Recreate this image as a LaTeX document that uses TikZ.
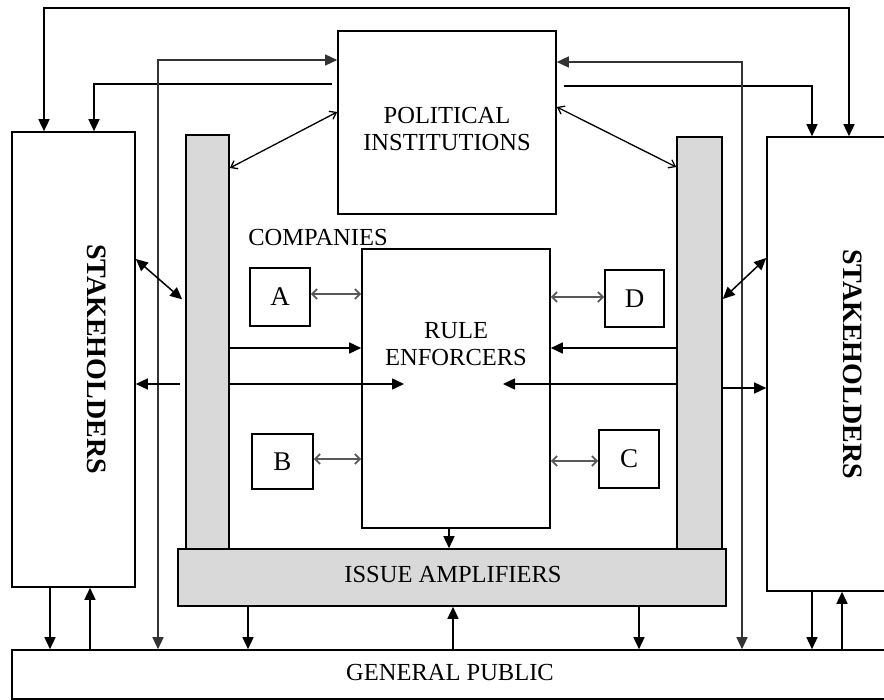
\documentclass[tikz,border=0pt]{standalone}
\usepackage{fontspec}
\setmainfont{Liberation Serif}
\usetikzlibrary{arrows.meta,calc}
\begin{document}
\begin{tikzpicture}[x=1pt,y=-1pt,line width=1.5pt,
  box/.style={draw,line width=1.6pt,inner sep=0pt},
  greybox/.style={box,fill=gray!30},
  lbl/.style={font=\fontsize{24.5}{27}\selectfont,align=center,inner sep=0pt},
  stk/.style={font=\bfseries\fontsize{28}{30}\selectfont,inner sep=0pt,rotate=-90},
  big/.style={-{Triangle[length=12pt,width=11pt]}},
  bigdbl/.style={{Triangle[length=12pt,width=11pt]}-{Triangle[length=12pt,width=11pt]}},
  smalldbl/.style={{Straight Barb[length=5pt,width=10pt]}-{Straight Barb[length=5pt,width=10pt]},draw=gray!70!black,line width=1.8pt},
  diagdbl/.style={{Straight Barb[length=6pt,width=9pt]}-{Straight Barb[length=6pt,width=9pt]},line width=1.3pt},
  thinline/.style={draw=black!80,line width=1.4pt}
]
\useasboundingbox (0,0) rectangle (884,700);
\clip (0,0) rectangle (884,700);

% boxes
\node[box,minimum width=123pt,minimum height=455pt] (SL) at (73.5,359.5) {};
\node[box,minimum width=140pt,minimum height=454pt] (SR) at (837,364) {};
\node[box,minimum width=218pt,minimum height=183pt] (PI) at (447,122.5) {};
\node[box,minimum width=188pt,minimum height=279pt] (RE) at (456,388.5) {};
\node[greybox,minimum width=43pt,minimum height=414pt] (LC) at (207.5,342) {};
\node[greybox,minimum width=45pt,minimum height=412pt] (RC) at (699.5,343) {};
\node[greybox,minimum width=548pt,minimum height=57pt] (IA) at (452,577.5) {};
\node[box,minimum width=900pt,minimum height=49pt] (GP) at (462,674.5) {};
\node[box,minimum width=60pt,minimum height=58pt] (A) at (280,297) {};
\node[box,minimum width=61pt,minimum height=55pt] (B) at (282.5,461.5) {};
\node[box,minimum width=59pt,minimum height=57pt] (D) at (634.5,298.5) {};
\node[box,minimum width=60pt,minimum height=58pt] (C) at (629,459) {};

% labels
\node[lbl] (PIt) at (447,129) {POLITICAL\\INSTITUTIONS};
\node[lbl] (REt) at (456,344) {RULE\\ENFORCERS};
\node[lbl] (IAt) at (453,575) {ISSUE AMPLIFIERS};
\node[lbl] (GPt) at (450,673) {GENERAL PUBLIC};
\node[lbl] (COt) at (318,238) {COMPANIES};
\node[lbl,font=\fontsize{27}{30}\selectfont] (At) at (A) {A};
\node[lbl,font=\fontsize{27}{30}\selectfont] (Bt) at (B) {B};
\node[lbl,font=\fontsize{27}{30}\selectfont] (Dt) at (D) {D};
\node[lbl,font=\fontsize{27}{30}\selectfont] (Ct) at (C) {C};
\node[stk] (SLt) at (97,359) {STAKEHOLDERS};
\node[stk] (SRt) at (853,364) {STAKEHOLDERS};

% top connectors
\coordinate (t1) at (44,8);
\coordinate (t2) at (849,8);
\draw[bigdbl] (SL.north -| t1) -- (t1) -- (t2) -- (SR.north -| t2);
\draw[big,shorten <=5pt] (PI.west |- 0,84) -| (SL.north -| 94,0);
\draw[big,shorten <=7pt] (PI.east |- 0,86) -| (SR.north -| 812,0);
\coordinate (cl) at (158,60);
\coordinate (cr) at (742,62);
\draw[bigdbl,thinline] (GP.north -| cl) -- (cl) -- (PI.west |- cl);
\draw[bigdbl,thinline] (GP.north -| cr) -- (cr) -- (PI.east |- cr);

% diagonals
\draw[diagdbl] (PI.west |- 0,112) -- (LC.east |- 0,168);
\draw[diagdbl] (PI.east |- 0,107) -- (RC.west |- 0,167);
\draw[bigdbl,shorten >=4pt] (SL.east |- 0,259) -- (LC.west |- 0,302);
\draw[bigdbl] (RC.east |- 0,299) -- (SR.west |- 0,258);

% companies
\draw[smalldbl] (A.east |- 0,294) -- (RE.west |- 0,294);
\draw[smalldbl] (B.east |- 0,459) -- (RE.west |- 0,459);
\draw[smalldbl] (RE.east |- 0,297) -- (D.west |- 0,297);
\draw[smalldbl] (RE.east |- 0,461) -- (C.west |- 0,461);

% columns to rule enforcers / stakeholders
\coordinate (reL) at (404,384);
\coordinate (reR) at (503,384);
\draw[big] (LC.east |- 0,348) -- (RE.west |- 0,348);
\draw[big] (LC.east |- reL) -- (reL);
\draw[big,shorten <=5pt] (LC.west |- 0,384) -- (SL.east |- 0,384);
\draw[big] (RC.west |- 0,348) -- (RE.east |- 0,348);
\draw[big] (RC.west |- reR) -- (reR);
\draw[big] (RC.east |- 0,388) -- (SR.west |- 0,388);

% bottom
\draw[big] (SL.south -| 50,0) -- (GP.north -| 50,0);
\draw[big] (GP.north -| 90,0) -- (SL.south -| 90,0);
\draw[big] (IA.south -| 248,0) -- (GP.north -| 248,0);
\draw[big] (RE.south -| 449,0) -- (IA.north -| 449,0);
\draw[big] (GP.north -| 453,0) -- (IA.south -| 453,0);
\draw[big] (IA.south -| 639,0) -- (GP.north -| 639,0);
\draw[big] (SR.south -| 812,0) -- (GP.north -| 812,0);
\draw[big] (GP.north -| 842,0) -- (SR.south -| 842,0);
\end{tikzpicture}
\end{document}
